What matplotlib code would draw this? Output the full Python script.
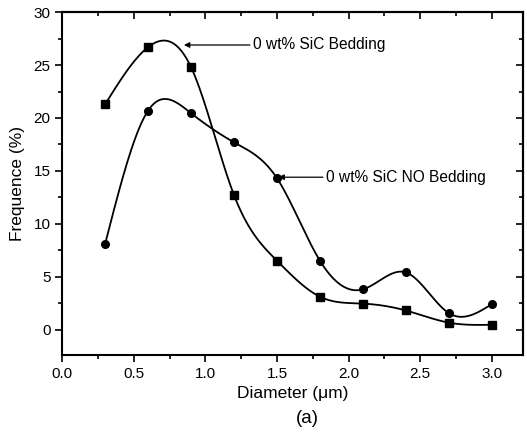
import matplotlib
matplotlib.use("Agg")
import matplotlib.pyplot as plt
import numpy as np
from matplotlib.ticker import MultipleLocator, NullFormatter

# datos
diametro = [0.3, 0.6, 0.9, 1.2, 1.5, 1.8, 2.1, 2.4, 2.7, 3.0]
con_cama = [21.3, 26.7, 24.8, 12.7, 6.5, 3.1, 2.45, 1.8, 0.65, 0.45]
sin_cama = [8.1, 20.7, 20.45, 17.7, 14.3, 6.5, 3.8, 5.4, 1.55, 2.4]


def spline(x, y, n=300):
    # spline cubico natural solo para dibujar la curva suave
    x = np.asarray(x, float)
    y = np.asarray(y, float)
    k = len(x)
    h = np.diff(x)
    A = np.zeros((k, k))
    b = np.zeros(k)
    A[0, 0] = 1
    A[-1, -1] = 1
    for i in range(1, k - 1):
        A[i, i - 1] = h[i - 1]
        A[i, i] = 2 * (h[i - 1] + h[i])
        A[i, i + 1] = h[i]
        b[i] = 3 * ((y[i + 1] - y[i]) / h[i] - (y[i] - y[i - 1]) / h[i - 1])
    c = np.linalg.solve(A, b)
    xs = np.linspace(x[0], x[-1], n)
    j = np.clip(np.searchsorted(x, xs) - 1, 0, k - 2)
    dx = xs - x[j]
    bb = (y[j + 1] - y[j]) / h[j] - h[j] * (2 * c[j] + c[j + 1]) / 3
    dd = (c[j + 1] - c[j]) / (3 * h[j])
    return xs, y[j] + bb * dx + c[j] * dx ** 2 + dd * dx ** 3


plt.rcParams['font.family'] = ['Liberation Sans', 'DejaVu Sans']

fig = plt.figure(figsize=(5.27, 4.36), dpi=100)
ax = fig.add_axes([0.118, 0.186, 0.875, 0.786])

xs, ys = spline(diametro, con_cama)
ax.plot(xs, ys, 'k-', lw=1.3)
ax.plot(diametro, con_cama, 'ks', ms=5.5)
xs, ys = spline(diametro, sin_cama)
ax.plot(xs, ys, 'k-', lw=1.3)
ax.plot(diametro, sin_cama, 'ko', ms=5.5)

flecha = dict(arrowstyle='-|>', color='k', lw=0.9, mutation_scale=8, shrinkA=0, shrinkB=0)
ax.annotate('0 wt% SiC Bedding', xy=(0.85, 26.9), xytext=(1.33, 26.9),
            fontsize=11.2, va='center', arrowprops=flecha)
ax.annotate('0 wt% SiC NO Bedding', xy=(1.51, 14.4), xytext=(1.84, 14.4),
            fontsize=11.2, va='center', arrowprops=flecha)

ax.set_xlim(0, 3.22)
ax.set_ylim(-2.4, 30)
ax.xaxis.set_major_locator(MultipleLocator(0.5))
ax.xaxis.set_minor_locator(MultipleLocator(0.25))
ax.yaxis.set_major_locator(MultipleLocator(5))
ax.yaxis.set_minor_locator(MultipleLocator(2.5))
ax.xaxis.set_major_formatter(matplotlib.ticker.FormatStrFormatter('%.1f'))
ax.tick_params(which='both', direction='out', labelsize=11, width=1.2)
ax.tick_params(which='major', length=5)
ax.tick_params(which='minor', length=3)
for s in ax.spines.values():
    s.set_linewidth(1.5)

# ticks arriba y a la derecha hacia adentro
arriba = ax.secondary_xaxis('top')
derecha = ax.secondary_yaxis('right')
arriba.xaxis.set_major_locator(MultipleLocator(0.5))
arriba.xaxis.set_minor_locator(MultipleLocator(0.25))
derecha.yaxis.set_major_locator(MultipleLocator(5))
derecha.yaxis.set_minor_locator(MultipleLocator(2.5))
for sec in (arriba, derecha):
    sec.tick_params(which='both', direction='in', width=1.2, labelsize=0)
    sec.tick_params(which='major', length=5)
    sec.tick_params(which='minor', length=3)
    sec.xaxis.set_major_formatter(NullFormatter())
    sec.yaxis.set_major_formatter(NullFormatter())
    for s in sec.spines.values():
        s.set_linewidth(1.5)

ax.set_xlabel('Diameter (\u03bcm)', fontsize=12.5, labelpad=4)
ax.set_ylabel('Frequence (%)', fontsize=12.5, labelpad=6)
fig.text(0.583, 0.03, '(a)', fontsize=13.5, ha='center')

fig.savefig('out.png', dpi=100)
